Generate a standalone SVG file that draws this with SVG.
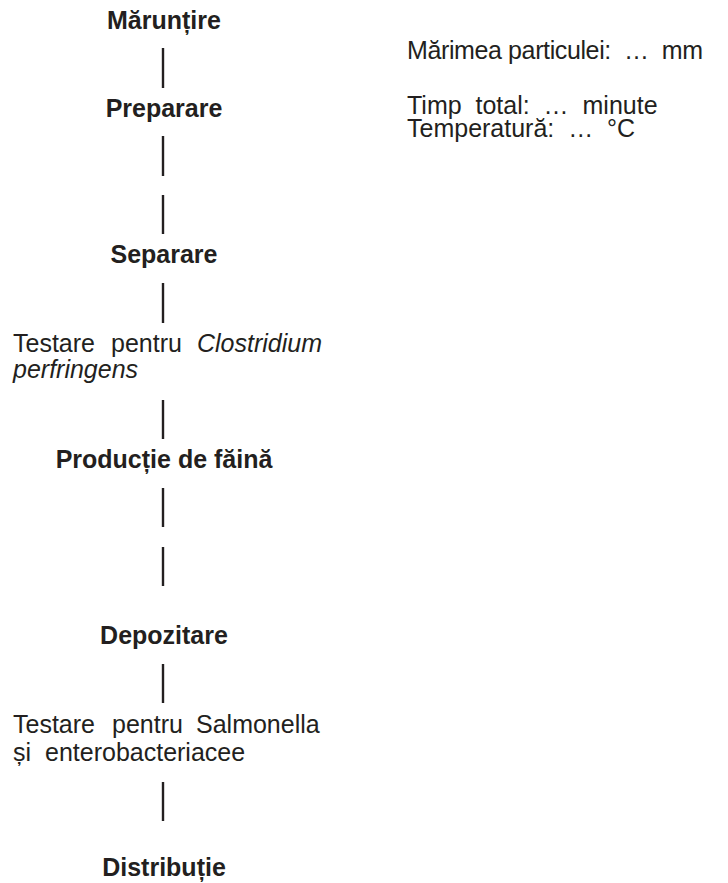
<svg xmlns="http://www.w3.org/2000/svg" width="728" height="883" viewBox="0 0 728 883">
<style>
text{font-family:"Liberation Sans",Arial,sans-serif;font-size:25px;fill:#231f20}
.b{font-weight:bold;text-anchor:middle}
.i{font-style:italic}
.c line{stroke:#231f20;stroke-width:2.4}
</style>
<rect width="728" height="883" fill="#fff"/>
<g id="connectors" class="c">
<line x1="163" y1="48" x2="163" y2="88"/>
<line x1="163" y1="136" x2="163" y2="176"/>
<line x1="163" y1="195" x2="163" y2="234"/>
<line x1="163" y1="283" x2="163" y2="323"/>
<line x1="163" y1="400" x2="163" y2="439"/>
<line x1="163" y1="488" x2="163" y2="527"/>
<line x1="163" y1="547" x2="163" y2="586"/>
<line x1="163" y1="664" x2="163" y2="703"/>
<line x1="163" y1="782" x2="163" y2="821"/>
</g>
<g id="maruntire"><text class="b" x="164" y="29">Mărunțire</text></g>
<g id="preparare"><text class="b" x="164" y="117">Preparare</text></g>
<g id="separare"><text class="b" x="164" y="263">Separare</text></g>
<g id="test-clostridium">
<text x="13" y="352">Testare</text>
<text x="111" y="352">pentru</text>
<text class="i" x="197" y="352">Clostridium</text>
<text class="i" x="13" y="378">perfringens</text>
</g>
<g id="productie"><text class="b" x="164" y="468">Producție de făină</text></g>
<g id="depozitare"><text class="b" x="164" y="644">Depozitare</text></g>
<g id="test-salmonella">
<text x="13" y="733">Testare</text>
<text x="112" y="733">pentru</text>
<text x="196" y="733">Salmonella</text>
<text x="13" y="761">și</text>
<text x="45" y="761">enterobacteriacee</text>
</g>
<g id="distributie"><text class="b" x="164" y="876">Distribuție</text></g>
<g id="params">
<text x="407" y="59" xml:space="preserve" textLength="296" lengthAdjust="spacing">Mărimea particulei:  …  mm</text>
<text x="407" y="114" xml:space="preserve">Timp  total:  …  minute</text>
<text x="407" y="137" xml:space="preserve">Temperatură:  …  °C</text>
</g>
</svg>
